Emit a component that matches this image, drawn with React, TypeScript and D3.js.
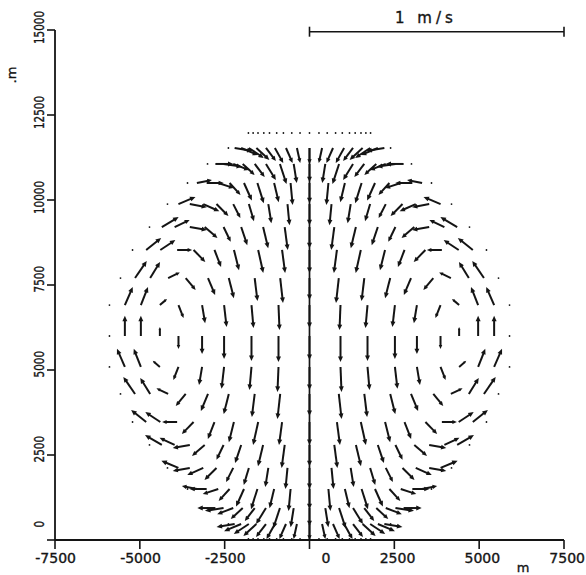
import * as d3 from 'd3'

// axis ticks (m)
const xTicks = [-7500, -5000, -2500, 0, 2500, 5000, 7500]
const yTicks = [0, 2500, 5000, 7500, 10000, 12500, 15000]

// reference arrow: 1 m/s is drawn as 7500 m of plot distance
const refSpeed = 1
const refLength = 7500
const refLabel = '1 m/s'

// grid rows from the ring centre upward (m); the lower half mirrors these
const rowY = [6000, 6910, 7705, 8530, 9205, 9880, 10500, 11060, 11530, 11970]
// half-width of the grid on each row (m)
const rowHalfWidth = [5895, 5895, 5570, 5215, 4715, 4185, 3595, 3005, 2390, 1800]
// position of each column as a fraction of the row half-width, axis first
const colFrac = [0, 0.155, 0.29, 0.427, 0.537, 0.655, 0.748, 0.843, 0.923, 1]

// horizontal velocity (m/s), upper-left quarter, one list per row
const uUpperLeft = [
  [0, 0, 0, 0, 0, 0, 0, 0, 0, 0],
  [0, 0.004, 0.008, 0.010, 0.012, 0.020, 0.028, 0.028, 0.031, 0],
  [0, 0.011, 0.011, 0.020, 0.028, 0.039, 0.046, 0.039, 0.046, 0],
  [0, 0.012, 0.020, 0.020, 0.026, 0.046, 0.059, 0.059, 0.059, 0],
  [0, 0.012, 0.020, 0.024, 0.028, 0.050, 0.067, 0.059, 0.066, 0],
  [0, 0.008, 0.012, 0.020, 0.028, 0.047, 0.063, 0.067, 0.067, 0],
  [0, 0.008, 0.018, 0.025, 0.031, 0.043, 0.061, 0.067, 0.059, 0],
  [0, 0.012, 0.026, 0.039, 0.039, 0.047, 0.063, 0.073, 0.071, 0],
  [0, 0.013, 0.026, 0.033, 0.039, 0.051, 0.059, 0.067, 0.071, 0],
  [0, 0, 0, 0, 0, 0, 0, 0, 0, 0],
]

// vertical velocity (m/s), upper-left quarter
const vUpperLeft = [
  [-0.094, -0.102, -0.098, -0.090, -0.071, -0.051, 0.035, 0.079, 0.079, 0],
  [-0.090, -0.098, -0.090, -0.086, -0.071, -0.051, 0.024, 0.071, 0.071, 0],
  [-0.086, -0.098, -0.090, -0.079, -0.067, -0.047, 0.022, 0.063, 0.067, 0],
  [-0.090, -0.090, -0.090, -0.079, -0.067, -0.047, 0, 0.039, 0.047, 0],
  [-0.083, -0.090, -0.083, -0.071, -0.058, -0.043, -0.012, 0.028, 0.039, 0],
  [-0.083, -0.083, -0.075, -0.067, -0.055, -0.047, -0.028, -0.012, 0.028, 0],
  [-0.079, -0.086, -0.075, -0.079, -0.069, -0.047, -0.020, 0, 0.012, 0],
  [-0.071, -0.075, -0.079, -0.063, -0.051, -0.043, -0.024, -0.011, 0, 0],
  [-0.063, -0.059, -0.059, -0.059, -0.051, -0.047, -0.039, -0.028, -0.012, 0],
  [0, 0, 0, 0, 0, 0, 0, 0, 0, 0],
]

interface Vec { xm: number; ym: number; u: number; v: number }

// the flow is symmetric about x = 0 and about the ring centre row
function buildField(): Vec[] {
  const yc = rowY[0]
  const out: Vec[] = []
  rowY.forEach((ry, j) => {
    colFrac.forEach((f, k) => {
      const xm = -rowHalfWidth[j] * f
      const u = uUpperLeft[j][k]
      const v = vUpperLeft[j][k]
      const ys = j === 0 ? [1] : [1, -1]
      const xs = k === 0 ? [1] : [1, -1]
      for (const sy of ys) {
        for (const sx of xs) {
          out.push({ xm: xm * sx, ym: yc + (ry - yc) * sy, u: u * sx * sy, v })
        }
      }
    })
  })
  return out
}

const INK = '#141414'
const FONT = '"DejaVu Sans", sans-serif'
const textStyle = { stroke: INK, strokeWidth: 0.35 }

export default function App() {
  const width = 586
  const height = 575
  const x = d3.scaleLinear().domain([-7500, 7500]).range([55, 564])
  const y = d3.scaleLinear().domain([0, 15000]).range([540, 30])
  const field = buildField()
  const perSpeed = refLength / refSpeed

  const arrows = field.map((a, i) => {
    const x0 = x(a.xm)
    const y0 = y(a.ym)
    const x1 = x(a.xm + a.u * perSpeed)
    const y1 = y(a.ym + a.v * perSpeed)
    const dx = x1 - x0
    const dy = y1 - y0
    const len = Math.hypot(dx, dy)
    if (len < 1) return <circle key={i} cx={x0} cy={y0} r={0.9} fill={INK} />
    const ux = dx / len
    const uy = dy / len
    const hl = Math.max(2.5, Math.min(5.5, len * 0.3))
    const hw = hl * 0.45
    const bx = x1 - ux * hl
    const by = y1 - uy * hl
    const head = `M${x1},${y1}L${bx - uy * hw},${by + ux * hw}L${bx + uy * hw},${by - ux * hw}Z`
    return (
      <g key={i}>
        <line x1={x0} y1={y0} x2={bx + ux} y2={by + uy} stroke={INK} strokeWidth={2} />
        <path d={head} fill={INK} />
      </g>
    )
  })

  const barY = y(14950)

  return (
    <svg width={width} height={height} style={{ position: 'absolute', left: 0, top: 0, background: '#fff' }}>
      {/* axis of symmetry */}
      <line x1={x(0)} x2={x(0)} y1={y(0)} y2={y(rowY[8])} stroke={INK} strokeWidth={1.7} />
      {arrows}

      {/* axes */}
      <line x1={x(-7500)} x2={x(-7500)} y1={y(15000)} y2={y(0)} stroke={INK} strokeWidth={1.8} />
      <line x1={x(-7500)} x2={x(7500)} y1={y(0)} y2={y(0)} stroke={INK} strokeWidth={1.8} />
      {xTicks.map(t => (
        <g key={`x${t}`}>
          <line x1={x(t)} x2={x(t)} y1={y(0)} y2={y(0) + 9} stroke={INK} strokeWidth={1.6} />
          <text x={x(t) + 21} y={563} textAnchor="end" fontFamily={FONT} fontSize={14} fill={INK} style={textStyle}>
            {t}
          </text>
        </g>
      ))}
      {yTicks.map(t => {
        const label = String(t)
        return (
          <g key={`y${t}`}>
            <line x1={x(-7500) - 8} x2={x(-7500)} y1={y(t)} y2={y(t)} stroke={INK} strokeWidth={1.6} />
            <text
              transform={`translate(43.5,${y(t) - 19}) rotate(-90)`}
              textAnchor="end"
              fontFamily={FONT}
              fontSize={14}
              fill={INK}
              style={textStyle}
              textLength={label.length * 6.6}
              lengthAdjust="spacingAndGlyphs"
            >
              {label}
            </text>
          </g>
        )
      })}
      <text transform="translate(15.5,75) rotate(-90)" textAnchor="middle" fontFamily={FONT} fontSize={13} fill={INK} style={textStyle}>
        .m
      </text>
      <text x={523} y={572} textAnchor="middle" fontFamily={FONT} fontSize={13} fill={INK} style={textStyle}>
        m
      </text>

      {/* reference vector */}
      <line x1={x(0)} x2={x(refLength)} y1={barY} y2={barY} stroke={INK} strokeWidth={1.6} />
      <line x1={x(0)} x2={x(0)} y1={barY - 5} y2={barY + 5} stroke={INK} strokeWidth={1.6} />
      <line x1={x(refLength)} x2={x(refLength)} y1={barY - 5} y2={barY + 5} stroke={INK} strokeWidth={1.6} />
      <text x={395} y={23} fontFamily={FONT} fontSize={15} letterSpacing={4} fill={INK} style={textStyle}>
        {refLabel}
      </text>
    </svg>
  )
}
